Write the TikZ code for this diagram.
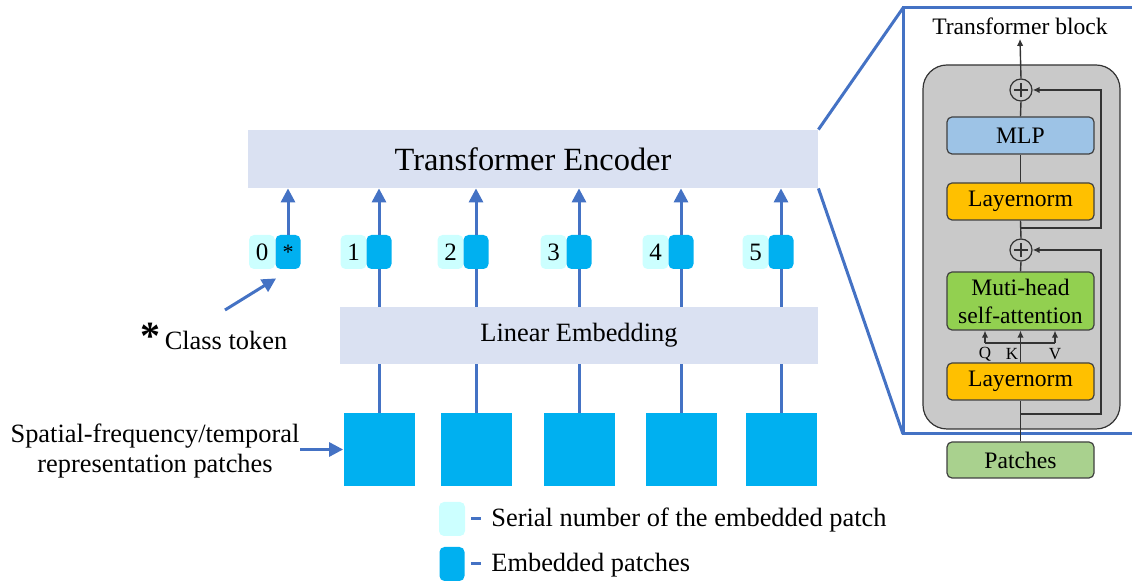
\documentclass[tikz,border=0pt]{standalone}
\usepackage{fontspec}
\setmainfont{LiberationSerif}[Extension=.ttf, UprightFont=*-Regular, BoldFont=*-Bold, ItalicFont=*-Italic, BoldItalicFont=*-BoldItalic]
\usetikzlibrary{arrows.meta}

\definecolor{encfill}{RGB}{218,225,242}
\definecolor{patchblue}{RGB}{0,176,240}
\definecolor{serialcyan}{RGB}{204,255,255}
\definecolor{linkblue}{RGB}{68,114,196}
\definecolor{blockgray}{RGB}{201,201,201}
\definecolor{mlpblue}{RGB}{157,195,230}
\definecolor{normorange}{RGB}{255,192,0}
\definecolor{attgreen}{RGB}{146,208,80}
\definecolor{patgreen}{RGB}{169,209,142}

\tikzset{
  bigbox/.style={fill=encfill, minimum height=29pt, inner sep=0},
  patchsq/.style={fill=patchblue, minimum width=35.5pt, minimum height=36.5pt, inner sep=0},
  embtok/.style={fill=patchblue, rounded corners=2.5pt, minimum width=12.5pt, minimum height=17pt, inner sep=0, font=\fontsize{11}{12}\selectfont},
  sertok/.style={fill=serialcyan, rounded corners=2.5pt, minimum width=13pt, minimum height=17pt, inner sep=0, font=\fontsize{12.5}{13}\selectfont},
  bluearr/.style={linkblue, line width=1.5pt, -{Triangle[length=7pt,width=7pt]}},
  blueline/.style={linkblue, line width=1.5pt},
  txt/.style={inner sep=0, font=\fontsize{13.2}{15}\selectfont},
  layer/.style={draw=black!75, line width=0.6pt, rounded corners=2.5pt, minimum width=73.5pt, minimum height=18.5pt, inner sep=0, font=\fontsize{11.8}{14}\selectfont},
  addop/.style={circle, draw=black!80, line width=0.6pt, minimum size=11pt, inner sep=0,
    path picture={\draw[line width=1.1pt] ([xshift=-3.6pt]path picture bounding box.center) -- ([xshift=3.6pt]path picture bounding box.center)
      ([yshift=-3.6pt]path picture bounding box.center) -- ([yshift=3.6pt]path picture bounding box.center);}},
  flow/.style={black!80, line width=0.7pt},
  flowarr/.style={flow, -{Latex[length=3.5pt,width=3.2pt]}},
}

\begin{document}
\begin{tikzpicture}[x=0.5pt, y=-0.5pt]
  \useasboundingbox (0,0) rectangle (1132,581);

  % Encoder and embedding bars
  \node[bigbox, minimum width=285pt, font=\fontsize{16.2}{18}\selectfont] (enc) at (533,159) {Transformer Encoder};
  \node[bigbox, minimum width=239pt, minimum height=28.5pt, font=\fontsize{13.2}{15}\selectfont] (lin) at (579,335.5) {Linear Embedding};

  % Class token
  \node[sertok] (s0) at (262,252) {0};
  \node[embtok] (e0) at (288,252) {*};
  \draw[bluearr] (e0.north) -- (e0.north |- enc.south);

  % Patches, tokens and links
  \foreach \i/\x in {1/379,2/476,3/579,4/681,5/781} {
    \node[patchsq] (p\i) at (\x,449.5) {};
    \node[sertok] (s\i) at ({\x-25.5},252) {\i};
    \node[embtok] (e\i) at (\x,252) {};
    \draw[blueline] (p\i.north) -- (p\i.north |- lin.south);
    \draw[blueline] (e\i.south |- lin.north) -- (e\i.south);
    \draw[bluearr] (e\i.north) -- (e\i.north |- enc.south);
  }

  % Side labels
  \node[txt, anchor=base west] (cls) at (140,350) {{\fontsize{20}{20}\selectfont\bfseries *}\,Class token};
  \coordinate (ct) at (225,310);
  \draw[bluearr] (ct) -- ([shift={(1,9)}]e0.south west);

  \node[txt, align=center] (sp) at (155,451) {Spatial-frequency/temporal\\representation patches};
  \draw[bluearr] (sp.east |- p1.west) -- (p1.west);

  % Legend
  \node[sertok] (lg1) at (452,519) {};
  \node[embtok] (lg2) at (452,564) {};
  \draw[blueline] ([xshift=3pt]lg1.east) -- ++(10,0);
  \draw[blueline] ([xshift=3pt]lg2.east) -- ++(10,0);
  \node[txt, anchor=west] (lt1) at (491,520) {Serial number of the embedded patch};
  \node[txt, anchor=west] (lt2) at (491,565) {Embedded patches};

  % Zoom frame
  \coordinate (ft) at (903,8);
  \coordinate (fb) at (903,434);
  \draw[blueline] (enc.north east) -- (ft);
  \draw[blueline] (enc.south east) -- (fb);
  \draw[blueline] (1132,8) -- (ft) -- (fb) -- (1132,434);

  % Transformer block
  \node[draw=black!80, fill=blockgray, rounded corners=12pt, line width=0.6pt, minimum width=98.5pt, minimum height=182pt] (blk) at (1021.5,247) {};
  \node[font=\fontsize{11.8}{14}\selectfont, inner sep=2pt] (ttl) at (1020,26) {Transformer block};
  \node[addop] (add1) at (1021,90) {};
  \node[layer, fill=mlpblue] (mlp) at (1020.5,135.5) {MLP};
  \node[layer, fill=normorange] (ln1) at (1020.5,201.5) {Layernorm};
  \node[addop] (add2) at (1021,250) {};
  \node[layer, fill=attgreen, minimum height=29pt, align=center] (mha) at (1020.5,301) {Muti-head\\self-attention};
  \node[layer, fill=normorange] (ln2) at (1020.5,381.5) {Layernorm};
  \node[layer, fill=patgreen, minimum height=18pt] (pat) at (1020.5,460) {Patches};

  \draw[flowarr] (add1.north) -- (ttl.south);
  \draw[flow] (mlp.north) -- (add1.south);
  \draw[flow] (ln1.north) -- (mlp.south);
  \draw[flow] (add2.north) -- (ln1.south);
  \draw[flow] (mha.north) -- (add2.south);
  \draw[flow] (pat.north) -- (ln2.south);

  % Q, K, V inputs
  \coordinate (q) at (985,343);
  \coordinate (v) at (1055,343);
  \draw[flowarr] (ln2.north) -- (mha.south);
  \draw[flow] (q) -- (v);
  \draw[flowarr] (q) -- (q |- mha.south);
  \draw[flowarr] (v) -- (v |- mha.south);
  \node[inner sep=0, font=\fontsize{8.5}{9}\selectfont] (lq) at (985,354) {Q};
  \node[inner sep=0, font=\fontsize{8.5}{9}\selectfont] (lk) at (1012,354) {K};
  \node[inner sep=0, font=\fontsize{8.5}{9}\selectfont] (lv) at (1055,354) {V};

  % Residual paths
  \coordinate (r1) at (1021,228);
  \coordinate (r2) at (1021,414);
  \draw[flowarr] (r1) -- ++(80,0) |- (add1.east);
  \draw[flowarr] (r2) -- ++(80,0) |- (add2.east);

\end{tikzpicture}
\end{document}
